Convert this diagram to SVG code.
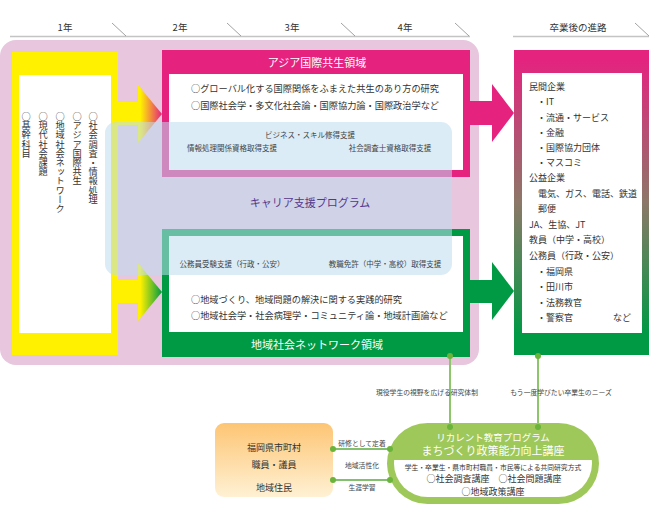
<svg xmlns="http://www.w3.org/2000/svg" width="650" height="506" viewBox="0 0 650 506">
<defs>
<style>
text{font-family:"Noto Sans CJK JP","Noto Sans",sans-serif;fill:#333}
.hd{font-size:9.5px;text-anchor:middle}
.hl{stroke:#c4c4c4;stroke-width:1.6;fill:none}
.sl{stroke:#8a8a8a;stroke-width:0.8;fill:none}
.vt{font-size:9.2px;writing-mode:vertical-rl}
.bt{font-size:9.2px}
.ttl{font-size:11px;fill:#fff;text-anchor:middle}
.cs{font-size:7.5px;text-anchor:middle;fill:#444}
.rt{font-size:9px}
.lab{font-size:6.8px;text-anchor:middle;fill:#444}
.conn{stroke:#8cc56a;stroke-width:2;fill:none}
.conn2{stroke:#5aab3c;stroke-width:1.6;fill:none}
.dot{fill:#6ab43c}
</style>
<linearGradient id="gYM" x1="0" y1="0" x2="1" y2="0"><stop offset="0.1" stop-color="#fff100"/><stop offset="1" stop-color="#e5237f"/></linearGradient>
<linearGradient id="gYG" x1="0" y1="0" x2="1" y2="0"><stop offset="0.1" stop-color="#fff100"/><stop offset="1" stop-color="#009a44"/></linearGradient>
<linearGradient id="gR" x1="0" y1="50" x2="0" y2="355" gradientUnits="userSpaceOnUse"><stop offset="0.03" stop-color="#e4237f"/><stop offset="0.5" stop-color="#8c7868"/><stop offset="0.93" stop-color="#009944"/></linearGradient>
<linearGradient id="gO" x1="0" y1="0" x2="0" y2="1"><stop offset="0" stop-color="#fdc574"/><stop offset="1" stop-color="#fff1d4"/></linearGradient>
<clipPath id="pillLow"><rect x="380" y="460" width="230" height="50"/></clipPath>
</defs>

<g id="header">
<text class="hd" x="65" y="31">1年</text>
<text class="hd" x="180" y="31">2年</text>
<text class="hd" x="292" y="31">3年</text>
<text class="hd" x="405" y="31">4年</text>
<text class="hd" x="578" y="31">卒業後の進路</text>
<line class="hl" x1="10" y1="36.5" x2="470" y2="36.5"/>
<line class="hl" x1="513" y1="36.5" x2="649" y2="36.5"/>
<line class="sl" x1="112" y1="23" x2="126" y2="36"/>
<line class="sl" x1="227" y1="23" x2="241" y2="36"/>
<line class="sl" x1="341" y1="23" x2="355" y2="36"/>
<line class="sl" x1="455" y1="23" x2="469" y2="36"/>
<line class="sl" x1="635" y1="23" x2="649" y2="36"/>
</g>

<g id="background">
<rect x="0" y="40" width="479" height="325" rx="16" fill="#e7c6de"/>
</g>

<g id="year1">
<rect x="12" y="52" width="106" height="303" fill="#fff100"/>
<rect x="19" y="75" width="92" height="258" fill="#fff"/>
<text class="vt" x="93" y="112">○社会調査・情報処理</text>
<text class="vt" x="77" y="112">○アジア国際共生</text>
<text class="vt" x="60" y="112">○地域社会ネットワーク</text>
<text class="vt" x="43" y="112">○現代社会課題</text>
<text class="vt" x="26" y="112">○基幹科目</text>
</g>

<g id="arrows">
<rect x="117" y="102" width="22" height="23" fill="#fff100"/>
<polygon points="138,85 162,114 138,143" fill="url(#gYM)"/>
<rect x="117" y="280" width="22" height="23" fill="#fff100"/>
<polygon points="138,263 162,292 138,321" fill="url(#gYG)"/>
<rect x="469" y="101" width="24" height="24" fill="#e5237f"/>
<polygon points="492,84 514,113 492,142" fill="#e5237f"/>
<rect x="469" y="280" width="24" height="23" fill="#009a44"/>
<polygon points="492,262 514,291 492,320" fill="#009a44"/>
</g>

<g id="asia">
<rect x="162" y="50" width="308" height="127" fill="#e5237f"/>
<rect x="169" y="74" width="294" height="96" fill="#fff"/>
<text class="ttl" x="317" y="67">アジア国際共生領域</text>
<text class="bt" x="191" y="91.5">○グローバル化する国際関係をふまえた共生のあり方の研究</text>
<text class="bt" x="191" y="108.5">○国際社会学・多文化社会論・国際協力論・国際政治学など</text>
</g>

<g id="network">
<rect x="162" y="229" width="308" height="128" fill="#009a44"/>
<rect x="169" y="236" width="294" height="96" fill="#fff"/>
<text class="ttl" x="317" y="349">地域社会ネットワーク領域</text>
<text class="bt" x="191" y="302.5">○地域づくり、地域問題の解決に関する実践的研究</text>
<text class="bt" x="191" y="318.5">○地域社会学・社会病理学・コミュニティ論・地域計画論など</text>
</g>

<g id="career">
<rect x="105" y="122" width="347" height="153" rx="11" fill="rgb(189,220,240)" fill-opacity="0.55"/>
<text class="cs" x="310" y="137.5">ビジネス・スキル修得支援</text>
<text class="cs" x="232" y="151">情報処理関係資格取得支援</text>
<text class="cs" x="390" y="151">社会調査士資格取得支援</text>
<text x="310" y="207" style="font-size:11px;text-anchor:middle;fill:#56388a">キャリア支援プログラム</text>
<text class="cs" x="232" y="267">公務員受験支援（行政・公安）</text>
<text class="cs" x="385" y="267">教職免許（中学・高校）取得支援</text>
</g>

<g id="career-path">
<rect x="514" y="50" width="135" height="305" fill="url(#gR)"/>
<rect x="522" y="73" width="120" height="260" fill="#fff"/>
<text class="rt" x="529" y="90">民間企業</text>
<text class="rt" x="537" y="105">・IT</text>
<text class="rt" x="537" y="120.5">・流通・サービス</text>
<text class="rt" x="537" y="135.5">・金融</text>
<text class="rt" x="537" y="150.5">・国際協力団体</text>
<text class="rt" x="537" y="166">・マスコミ</text>
<text class="rt" x="529" y="180.5">公益企業</text>
<text class="rt" x="538" y="197">電気、ガス、電話、鉄道</text>
<text class="rt" x="538" y="212">郵便</text>
<text class="rt" x="529" y="227.5">JA、生協、JT</text>
<text class="rt" x="529" y="243">教員（中学・高校）</text>
<text class="rt" x="529" y="259">公務員（行政・公安）</text>
<text class="rt" x="537" y="274.5">・福岡県</text>
<text class="rt" x="537" y="290">・田川市</text>
<text class="rt" x="537" y="305.5">・法務教官</text>
<text class="rt" x="537" y="320.5">・警察官</text>
<text class="rt" x="613" y="320.5">など</text>
</g>

<g id="connectors">
<line class="conn" x1="450" y1="356" x2="450" y2="427"/>
<line class="conn" x1="538" y1="356" x2="538" y2="427"/>
<line class="conn2" x1="333" y1="449" x2="390" y2="449"/>
<line class="conn2" x1="333" y1="480" x2="390" y2="480"/>
<text class="lab" x="427" y="395">現役学生の視野を広げる研究体制</text>
<text class="lab" x="561" y="395">もう一度学びたい卒業生のニーズ</text>
<text class="lab" x="362" y="445.5">研修として定着</text>
<text class="lab" x="362" y="467.5">地域活性化</text>
<text class="lab" x="362" y="489.5">生涯学習</text>
</g>

<g id="locals">
<rect x="215" y="423" width="118" height="74" rx="9" fill="url(#gO)"/>
<text x="274" y="450.5" style="font-size:9px;text-anchor:middle">福岡県市町村</text>
<text x="274" y="467.5" style="font-size:9px;text-anchor:middle">職員・議員</text>
<text x="274" y="490.5" style="font-size:9px;text-anchor:middle">地域住民</text>
</g>

<g id="recurrent">
<rect x="387" y="423" width="212" height="81" rx="40.5" fill="#9fc85a"/>
<rect x="394" y="430" width="198" height="67" rx="33.5" fill="#fff" clip-path="url(#pillLow)"/>
<text x="493" y="440.5" style="font-size:9.5px;text-anchor:middle;fill:#fff">リカレント教育プログラム</text>
<text x="493" y="455" style="font-size:11px;text-anchor:middle;fill:#fff">まちづくり政策能力向上講座</text>
<text x="493" y="469.5" style="font-size:6.8px;text-anchor:middle">学生・卒業生・県市町村職員・市民等による共同研究方式</text>
<text x="494" y="482" style="font-size:9px;text-anchor:middle">○社会調査講座　○社会問題講座</text>
<text x="493" y="494.5" style="font-size:9px;text-anchor:middle">○地域政策講座</text>
</g>

<g id="dots">
<circle class="dot" cx="450" cy="356" r="3"/>
<circle class="dot" cx="538" cy="356" r="3"/>
<circle class="dot" cx="450" cy="427" r="3"/>
<circle class="dot" cx="538" cy="427" r="3"/>
<circle class="dot" cx="333" cy="449" r="3"/>
<circle class="dot" cx="390" cy="449" r="3"/>
<circle class="dot" cx="333" cy="480" r="3"/>
<circle class="dot" cx="390" cy="480" r="3"/>
</g>
</svg>
